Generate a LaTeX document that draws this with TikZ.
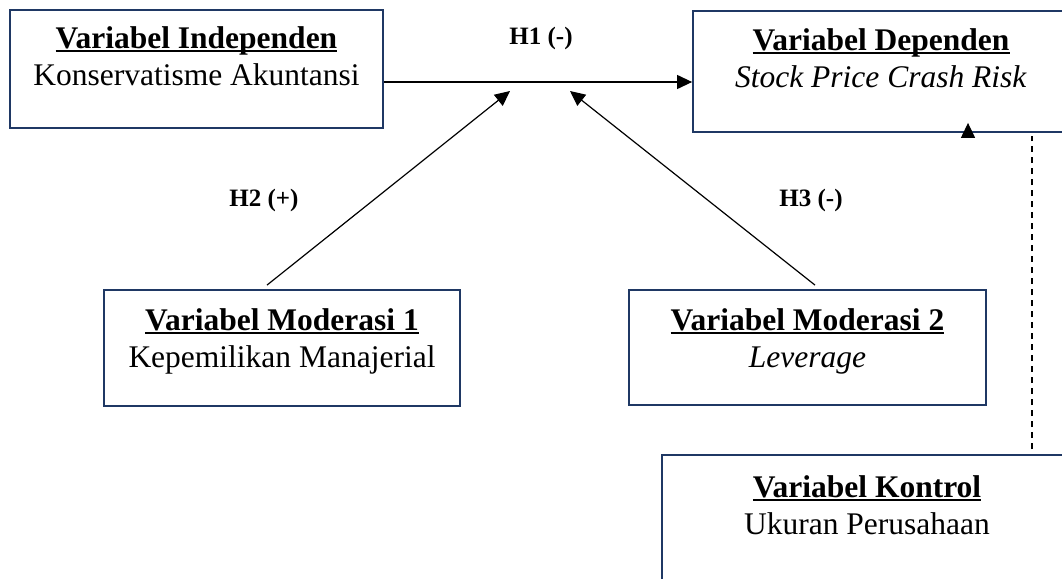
\documentclass[tikz,border=0pt]{standalone}
\usepackage{fontspec}
\setmainfont{Liberation Serif}
\usetikzlibrary{arrows.meta}
\usetikzlibrary{positioning}

\definecolor{boxnavy}{RGB}{31,56,100}
\newcommand{\varhead}[1]{\setbox0\hbox{\textbf{#1}}\rlap{\vrule width\wd0 height -2pt depth 4pt}\box0}

\begin{document}
\begin{tikzpicture}[x=1pt,y=-1pt,
    varbox/.style={rectangle, draw=boxnavy, line width=1.8pt, fill=white, inner sep=0pt},
    varcaption/.style={anchor=north, inner sep=0pt, align=center, font=\fontsize{31.5}{37}\selectfont},
    hypothesis/.style={anchor=base, inner sep=0pt, font=\fontsize{25}{30}\selectfont\bfseries},
    link/.style={draw, line width=1.2pt, -{Triangle[length=15pt,width=14pt]}},
    ctrlline/.style={draw, line width=1.2pt, dash pattern=on 6pt off 5pt}
    ]
    \useasboundingbox (0,0) rectangle (1062,578);

    % the variable boxes, caption hangs from the top edge
    \foreach \vname/\cx/\cy/\bw/\bh/\dy/\vtitle/\vsub in {
        indep/196.5/69/373/118/17/{Variabel Independen}/{Konservatisme Akuntansi},
        dep/881/71.5/376/121/18/{Variabel Dependen}/{\textit{Stock Price Crash Risk}},
        mod1/282/348/356/116/19/{Variabel Moderasi 1}/{Kepemilikan Manajerial},
        mod2/807.5/347.5/357/115/19/{Variabel Moderasi 2}/{\textit{Leverage}},
        ctrl/867/518/410/126/21/{Variabel Kontrol}/{Ukuran Perusahaan}} {
        \node[varbox, minimum width=\bw pt, minimum height=\bh pt,
              label={[varcaption, name=\vname text, yshift=-\dy pt]north:{\varhead{\vtitle}\\\vsub}}]
              (\vname) at (\cx,\cy) {};
    }

    % hypothesis labels
    \foreach \hname/\htext/\hx/\hy in {h1/{H1 (-)}/541/45, h2/{H2 (+)}/264/206, h3/{H3 (-)}/811/206} {
        \node[hypothesis] (\hname) at (\hx,\hy) {\htext};
    }

    \coordinate (h1start) at ([yshift=-13pt]indep.east);
    \coordinate (h2tip) at (510,91);
    \coordinate (h3tip) at (570,91);
    \coordinate (ctrlend) at ([xshift=165pt,yshift=5pt]ctrl.north);
    \coordinate (depend) at (ctrlend |- dep.south);
    \coordinate (ctrltip) at ([xshift=87pt,yshift=10pt]dep.south);

    \draw[link] (h1start) -- (h1start -| dep.west);
    \draw[link] ([xshift=-15pt,yshift=4pt]mod1.north) -- (h2tip);
    \draw[link] ([xshift=7.5pt,yshift=4pt]mod2.north) -- (h3tip);

    % control variable
    \draw[ctrlline, shorten >=3pt] (ctrlend) -- (depend);
    \draw[link] ([yshift=-13pt]ctrltip) -- (ctrltip);
\end{tikzpicture}
\end{document}
